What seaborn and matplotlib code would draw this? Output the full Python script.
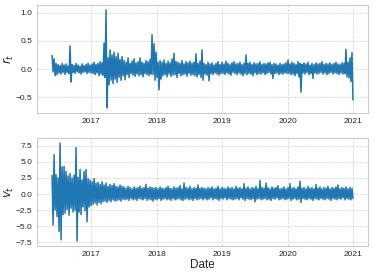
import numpy as np
import pandas as pd
import matplotlib
matplotlib.use("Agg")
import matplotlib.pyplot as plt
import matplotlib.dates as mdates
import seaborn as sns

# envelope of the two daily series (high / low per ~11 days)
r_high = [0.24, 0.18, 0.10, 0.08, 0.06, 0.10, 0.07, 0.09, 0.05, 0.41,
          0.08, 0.06, 0.10, 0.07, 0.05, 0.09, 0.06, 0.08, 0.10, 0.07,
          0.09, 0.12, 0.08, 0.10, 0.13, 0.11,
          0.46, 1.05,
          0.20, 0.34, 0.25, 0.30, 0.22, 0.28, 0.17, 0.22,
          0.15, 0.12, 0.20, 0.10, 0.14, 0.18, 0.11, 0.13, 0.20, 0.12, 0.10, 0.15, 0.13, 0.17,
          0.61, 0.45, 0.30, 0.12, 0.15,
          0.12, 0.16, 0.10, 0.14, 0.11, 0.18, 0.28, 0.13, 0.12, 0.10, 0.15, 0.09, 0.13, 0.11, 0.14, 0.10,
          0.12, 0.27, 0.10, 0.14, 0.34,
          0.10, 0.08, 0.12, 0.09, 0.11, 0.07, 0.10, 0.13, 0.08,
          0.12, 0.09, 0.14, 0.10, 0.08, 0.11, 0.13, 0.09, 0.10, 0.12, 0.08, 0.10,
          0.25,
          0.10, 0.12, 0.08, 0.11, 0.09, 0.10, 0.13, 0.08, 0.10, 0.09,
          0.11, 0.12, 0.08, 0.10, 0.09, 0.07, 0.10, 0.08, 0.09, 0.11,
          0.16, 0.09, 0.12, 0.10, 0.08, 0.13, 0.10,
          0.08, 0.11, 0.09, 0.12, 0.07, 0.10, 0.08, 0.11, 0.09, 0.10, 0.13,
          0.08, 0.10, 0.09, 0.11, 0.08, 0.10, 0.12, 0.09, 0.08, 0.11, 0.10,
          0.35, 0.12, 0.20, 0.29]
r_low = [-0.05, -0.12, -0.10, -0.07, -0.09, -0.06, -0.10, -0.06, -0.08, -0.23,
         -0.06, -0.08, -0.05, -0.07, -0.09, -0.06, -0.05, -0.08, -0.06, -0.07,
         -0.08, -0.10, -0.07, -0.12, -0.09, -0.11,
         -0.15, -0.69,
         -0.28, -0.20, -0.26, -0.18, -0.24, -0.15, -0.20, -0.12,
         -0.19, -0.10, -0.15, -0.08, -0.11, -0.13, -0.09, -0.12, -0.10, -0.14, -0.08, -0.10, -0.12, -0.09,
         -0.10, -0.20, -0.15, -0.37, -0.18,
         -0.12, -0.10, -0.14, -0.09, -0.13, -0.11, -0.10, -0.15, -0.08, -0.12, -0.10, -0.09, -0.13, -0.08, -0.11, -0.10,
         -0.12, -0.14, -0.10, -0.15, -0.20,
         -0.09, -0.11, -0.21, -0.08, -0.10, -0.07, -0.09, -0.11, -0.08,
         -0.08, -0.10, -0.07, -0.09, -0.11, -0.06, -0.08, -0.10, -0.07, -0.09, -0.12, -0.08,
         -0.10,
         -0.08, -0.09, -0.12, -0.07, -0.10, -0.08, -0.09, -0.07, -0.10, -0.08,
         -0.06, -0.09, -0.17, -0.08, -0.07, -0.10, -0.08, -0.09, -0.07, -0.08,
         -0.08, -0.10, -0.09, -0.12, -0.08, -0.14, -0.41,
         -0.07, -0.09, -0.06, -0.10, -0.08, -0.17, -0.07, -0.09, -0.08, -0.06, -0.09,
         -0.07, -0.10, -0.08, -0.06, -0.09, -0.07, -0.08, -0.10, -0.07, -0.09, -0.08,
         -0.14, -0.16, -0.22, -0.55]

v_high = [2.9, 6.1, 3.0, 2.5, 7.9, 4.2,
          4.3, 3.5, 2.8, 3.2, 2.5, 2.9,
          7.2, 2.6, 3.8, 2.2, 3.5, 3.8, 2.4,
          2.2, 1.9, 2.4, 1.7, 1.8, 1.5, 1.9,
          1.4, 1.7, 1.2, 1.5, 1.3, 1.6, 1.2, 1.1, 1.4, 1.2,
          1.1, 0.9, 1.2, 1.0, 0.8, 1.1, 0.9, 1.0, 1.2, 0.9, 1.0, 1.5, 0.9, 1.1, 1.0,
          0.9, 1.0, 0.8, 1.1, 0.9, 0.8, 1.0, 1.2, 0.9, 0.8, 1.1, 0.9, 1.0, 1.3, 0.8,
          1.7, 1.0, 0.9, 1.2, 0.8, 1.0, 0.9, 1.4, 0.9, 1.0,
          0.9, 0.8, 1.0, 0.9, 1.1, 0.8, 0.9, 1.2, 0.8, 1.0, 0.9, 0.8, 1.1, 0.9, 1.0,
          0.8, 1.2, 0.9, 1.0, 0.8, 1.6, 0.9, 1.1, 0.8, 1.0, 0.9, 1.2, 0.8, 2.1, 1.0,
          0.9, 1.7, 1.0, 0.8, 1.1, 0.9, 1.0, 1.3, 0.8, 0.9, 1.1, 0.8, 1.0, 1.6, 0.9,
          1.0, 0.8, 1.1, 2.0, 0.9, 1.0, 0.8, 1.2, 0.9, 1.0, 0.8, 1.5, 0.9, 1.1, 0.8,
          1.0, 0.9, 1.2, 0.8, 1.0, 0.9, 1.1, 1.4, 0.8, 1.0, 0.9, 1.1, 0.8, 1.0, 0.9]
v_low = [-4.8, -2.5, -3.5, -5.8, -7.1, -3.2,
         -3.0, -2.4, -3.3, -2.2, -2.8, -2.5,
         -7.3, -2.8, -3.2, -2.0, -2.6, -4.3, -2.0,
         -1.8, -1.6, -1.4, -1.7, -1.3, -1.5, -1.2,
         -1.1, -1.3, -1.0, -1.2, -0.9, -1.1, -1.0, -0.9, -1.1, -0.8,
         -0.9, -0.8, -1.0, -0.7, -0.9, -0.8, -1.0, -0.7, -0.8, -0.9, -0.7, -1.0, -0.8, -0.9, -1.1,
         -0.8, -0.9, -0.7, -1.0, -0.8, -0.7, -0.9, -0.8, -1.0, -0.7, -0.9, -0.8, -0.7, -0.9, -1.0,
         -0.8, -0.7, -0.9, -0.8, -1.0, -0.7, -0.9, -0.8, -0.7, -0.9,
         -0.7, -0.9, -0.8, -0.6, -0.9, -0.7, -0.8, -1.0, -0.7, -0.8, -0.6, -0.9, -0.7, -0.8, -0.9,
         -0.8, -0.7, -0.9, -0.6, -0.8, -1.0, -0.7, -0.8, -0.9, -0.7, -1.2, -0.8, -0.7, -0.9, -0.8,
         -0.7, -0.9, -0.8, -1.0, -0.7, -0.8, -0.6, -0.9, -0.8, -0.7, -0.9, -0.8, -0.7, -1.0, -0.8,
         -0.7, -0.9, -0.8, -1.3, -0.7, -0.8, -0.9, -0.7, -0.8, -1.0, -0.7, -0.8, -0.9, -0.7, -0.8,
         -0.9, -0.7, -0.8, -1.0, -0.7, -0.8, -0.9, -0.7, -0.8, -0.6, -0.9, -0.7, -0.8, -0.9, -0.7]

start, end = "2016-05-27", "2020-12-31"

r_vals = np.column_stack([r_high, r_low]).ravel()
v_vals = np.column_stack([v_high, v_low]).ravel()
dates = pd.date_range(start, end, periods=len(r_vals))
df = pd.DataFrame({"Date": dates, "r": r_vals, "v": v_vals})

sns.set_theme(style="whitegrid", rc={"grid.linestyle": "--", "axes.edgecolor": ".8"})
plt.rcParams["font.family"] = ["Liberation Sans", "DejaVu Sans"]

fig, axes = plt.subplots(2, 1, figsize=(3.74, 2.77), dpi=100)
fig.subplots_adjust(left=0.099, right=0.984, top=0.982, bottom=0.112, hspace=0.236)

for ax, col, lab in zip(axes, ["r", "v"], ["$r_t$", "$v_t$"]):
    sns.lineplot(data=df, x="Date", y=col, ax=ax, color="#1f77b4",
                 linewidth=1.1, estimator=None)
    ax.set_ylabel(lab, fontsize=8.5)
    ax.yaxis.set_label_coords(-0.064, 0.5)
    ax.xaxis.set_major_locator(mdates.YearLocator())
    ax.xaxis.set_major_formatter(mdates.DateFormatter("%Y"))
    ax.tick_params(labelsize=6, length=0, pad=3.5, labelcolor=".15")
    ax.grid(True, linestyle="--", linewidth=0.6, color=".85")
    for s in ax.spines.values():
        s.set_linewidth(0.8)

axes[0].set_xlabel("")
axes[1].set_yticks([-7.5, -5.0, -2.5, 0.0, 2.5, 5.0, 7.5])
axes[1].set_xlabel("Date", fontsize=8.5, labelpad=1)

fig.savefig("out.png", dpi=100)
